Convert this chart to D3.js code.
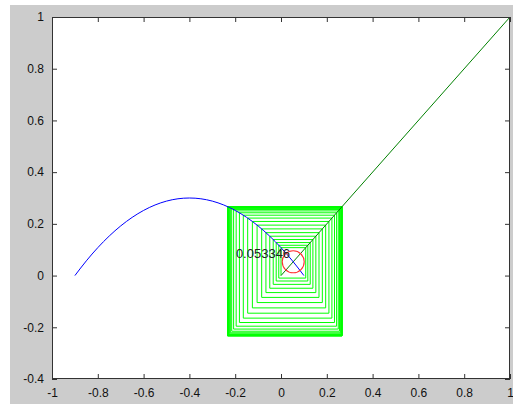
<!DOCTYPE html>
<meta charset="utf-8">

<!-- Load d3.js -->
<script src="https://d3js.org/d3.v7.js"></script>

<style>
  body { margin: 0; background: #fff; }
  text { font-family: "Liberation Sans", Arial, sans-serif; }
</style>

<div id="my_dataviz"></div>

<script>

// curve f(x)
var curveX = [-0.9, -0.85, -0.8, -0.75, -0.7, -0.65, -0.6, -0.55, -0.5, -0.45, -0.4,
              -0.35, -0.3, -0.25, -0.2, -0.15, -0.1, -0.05, 0, 0.05, 0.1];
var curveY = [0, 0.057, 0.108, 0.153, 0.192, 0.225, 0.252, 0.273, 0.288, 0.297, 0.3,
              0.297, 0.288, 0.273, 0.252, 0.225, 0.192, 0.153, 0.108, 0.057, 0];

// diagonal y = x
var diagX = [0, 1];

// orbit values (cobweb), spiralling out from the fixed point
var orbit = [0, 0.108, -0.0097, 0.1172, -0.021, 0.1276, -0.034, 0.1393, -0.049, 0.1522,
             -0.0658, 0.166, -0.0844, 0.1805, -0.1044, 0.1951, -0.125, 0.2093, -0.1455, 0.2223,
             -0.1646, 0.2335, -0.1816, 0.2428, -0.1958, 0.25, -0.2069, 0.2553, -0.2153, 0.259,
             -0.2212, 0.2616, -0.2253, 0.2634, -0.2281, 0.2645, -0.2299, 0.2653, -0.2311, 0.2658,
             -0.2319, 0.2661, -0.2324, 0.2663, -0.2328, 0.2665, -0.233, 0.2666, -0.2332, 0.2667];

// fixed point
var fixedPoint = 0.053346;
var fixedLabel = "0.053346";

var xTicks = [-1, -0.8, -0.6, -0.4, -0.2, 0, 0.2, 0.4, 0.6, 0.8, 1];
var yTicks = [-0.4, -0.2, 0, 0.2, 0.4, 0.6, 0.8, 1];

var W = 513, H = 404;
var margin = {top: 17, right: 3, bottom: 25, left: 52},
    width = W - margin.left - margin.right,
    height = H - margin.top - margin.bottom;

var root = d3.select("#my_dataviz")
  .append("svg")
    .attr("width", W)
    .attr("height", H);

// figure background
root.append("rect")
  .attr("x", 10).attr("y", 5)
  .attr("width", W - 10).attr("height", H - 5)
  .attr("fill", "#cccccc");

var svg = root.append("g")
  .attr("transform", "translate(" + margin.left + "," + margin.top + ")");

svg.append("rect")
  .attr("width", width).attr("height", height)
  .attr("fill", "#fff");

var x = d3.scaleLinear().domain([-1, 1]).range([0, width]);
var y = d3.scaleLinear().domain([-0.4, 1]).range([height, 0]);

var clip = svg.append("clipPath").attr("id", "clip")
  .append("rect").attr("width", width).attr("height", height);

var plot = svg.append("g").attr("clip-path", "url(#clip)");

// cobweb
var web = [[orbit[0], orbit[0]]];
for (var i = 0; i < orbit.length - 1; i++) {
  web.push([orbit[i], orbit[i + 1]]);
  web.push([orbit[i + 1], orbit[i + 1]]);
}
plot.append("path")
  .datum(web)
  .attr("fill", "none")
  .attr("stroke", "#00ff00")
  .attr("stroke-width", 1)
  .attr("d", d3.line().x(d => x(d[0])).y(d => y(d[1])));

// diagonal
plot.append("path")
  .datum(diagX)
  .attr("fill", "none")
  .attr("stroke", "#008000")
  .attr("stroke-width", 1)
  .attr("d", d3.line().x(d => x(d)).y(d => y(d)));

// curve
plot.append("path")
  .datum(d3.zip(curveX, curveY))
  .attr("fill", "none")
  .attr("stroke", "#0000ff")
  .attr("stroke-width", 1)
  .attr("d", d3.line().curve(d3.curveMonotoneX).x(d => x(d[0])).y(d => y(d[1])));

// fixed point marker
plot.append("circle")
  .attr("cx", x(fixedPoint)).attr("cy", y(fixedPoint))
  .attr("r", 11)
  .attr("fill", "none")
  .attr("stroke", "#ff3030")
  .attr("stroke-width", 1.1);

svg.append("text")
  .attr("x", x(-0.197)).attr("y", y(0.087))
  .attr("dy", "0.35em")
  .style("font-size", "13px")
  .attr("fill", "#222")
  .text(fixedLabel);

// axes box with inner ticks on all sides
var fmt = d => d3.format("")(d).replace("\u2212", "-");
var axisColor = "#333";

function styleAxis(g) {
  g.select(".domain").remove();
  g.selectAll("line").attr("stroke", axisColor);
  g.selectAll("text").style("font-size", "12px").attr("fill", "#111");
}

svg.append("g")
  .attr("transform", "translate(0," + height + ")")
  .call(d3.axisBottom(x).tickValues(xTicks).tickSize(-5).tickPadding(9).tickFormat(fmt))
  .call(styleAxis);
svg.append("g")
  .call(d3.axisTop(x).tickValues(xTicks).tickSize(-5).tickFormat(""))
  .call(styleAxis);
svg.append("g")
  .call(d3.axisLeft(y).tickValues(yTicks).tickSize(-5).tickPadding(8).tickFormat(fmt))
  .call(styleAxis);
svg.append("g")
  .attr("transform", "translate(" + width + ",0)")
  .call(d3.axisRight(y).tickValues(yTicks).tickSize(-5).tickFormat(""))
  .call(styleAxis);

svg.append("rect")
  .attr("x", 0.5).attr("y", 0.5)
  .attr("width", width - 1).attr("height", height - 1)
  .attr("fill", "none")
  .attr("stroke", axisColor)
  .attr("stroke-width", 1);

</script>
